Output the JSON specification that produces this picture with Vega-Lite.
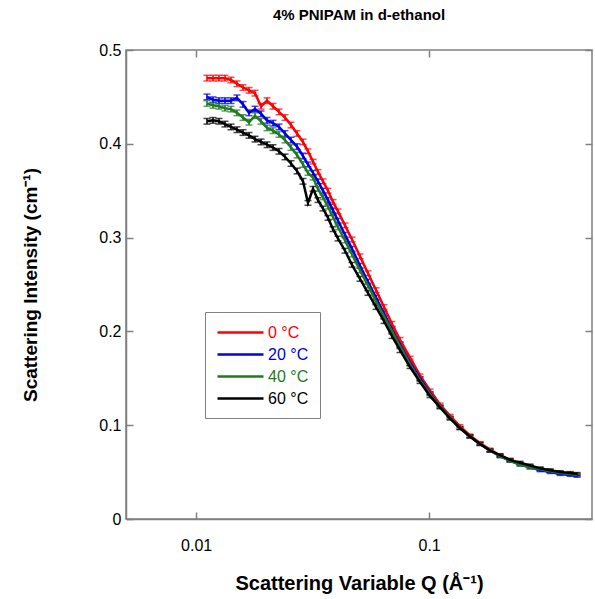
{
  "$schema": "https://vega.github.io/schema/vega-lite/v6.json",
  "autosize": "none",
  "width": 466,
  "height": 469,
  "padding": {"left": 126, "top": 50, "right": 3, "bottom": 80},
  "background": "white",
  "title": {"text": "4% PNIPAM in d-ethanol", "fontSize": 15, "fontWeight": "bold", "font": "Liberation Sans", "anchor": "middle", "offset": 19, "color": "#000"},
  "config": {
    "font": "Liberation Sans",
    "view": {"stroke": "#808080", "strokeWidth": 1.5},
    "axis": {"grid": false, "domainColor": "#808080", "domainWidth": 1.5, "tickColor": "#808080", "tickWidth": 1.5, "tickSize": -7, "labelFontSize": 16, "labelColor": "#000", "titleFontSize": 19, "titleFontWeight": "bold", "titleColor": "#000", "labelPadding": 12},
    "legend": {
      "orient": "none", "legendX": 79, "legendY": 262, "title": null,
      "symbolType": "M-1,0H4.75", "symbolSize": 256, "symbolStrokeWidth": 2.5,
      "labelFontSize": 16, "labelOffset": 33, "rowPadding": 4,
      "padding": 11, "strokeColor": "#808080", "fillColor": "white"
    }
  },
  "data": {"values": [
    {"T":"0 °C","Q":0.01113,"I":0.470,"e":0.003},{"T":"0 °C","Q":0.01181,"I":0.470,"e":0.003},{"T":"0 °C","Q":0.01253,"I":0.470,"e":0.003},{"T":"0 °C","Q":0.01330,"I":0.470,"e":0.003},{"T":"0 °C","Q":0.01411,"I":0.468,"e":0.003},{"T":"0 °C","Q":0.01497,"I":0.464,"e":0.003},{"T":"0 °C","Q":0.01589,"I":0.460,"e":0.003},{"T":"0 °C","Q":0.01686,"I":0.457,"e":0.003},{"T":"0 °C","Q":0.01789,"I":0.454,"e":0.003},{"T":"0 °C","Q":0.01899,"I":0.440,"e":0.003},{"T":"0 °C","Q":0.02015,"I":0.446,"e":0.003},{"T":"0 °C","Q":0.02138,"I":0.440,"e":0.003},{"T":"0 °C","Q":0.02268,"I":0.434,"e":0.003},{"T":"0 °C","Q":0.02407,"I":0.428,"e":0.003},{"T":"0 °C","Q":0.02554,"I":0.420,"e":0.003},{"T":"0 °C","Q":0.02710,"I":0.411,"e":0.003},{"T":"0 °C","Q":0.02875,"I":0.402,"e":0.003},{"T":"0 °C","Q":0.03020,"I":0.392,"e":0.0025},{"T":"0 °C","Q":0.03174,"I":0.381,"e":0.0025},{"T":"0 °C","Q":0.03334,"I":0.370,"e":0.0025},{"T":"0 °C","Q":0.03503,"I":0.360,"e":0.0025},{"T":"0 °C","Q":0.03681,"I":0.350,"e":0.0025},{"T":"0 °C","Q":0.03868,"I":0.338,"e":0.0025},{"T":"0 °C","Q":0.04064,"I":0.328,"e":0.0025},{"T":"0 °C","Q":0.04355,"I":0.313,"e":0.0025},{"T":"0 °C","Q":0.04667,"I":0.298,"e":0.0025},{"T":"0 °C","Q":0.05050,"I":0.280,"e":0.0025},{"T":"0 °C","Q":0.05464,"I":0.262,"e":0.0025},{"T":"0 °C","Q":0.05916,"I":0.244,"e":0.0025},{"T":"0 °C","Q":0.06403,"I":0.226,"e":0.0025},{"T":"0 °C","Q":0.06928,"I":0.208,"e":0.0025},{"T":"0 °C","Q":0.07499,"I":0.191,"e":0.0025},{"T":"0 °C","Q":0.08279,"I":0.172,"e":0.0015},{"T":"0 °C","Q":0.09141,"I":0.153,"e":0.0015},{"T":"0 °C","Q":0.1009,"I":0.137,"e":0.0015},{"T":"0 °C","Q":0.1114,"I":0.122,"e":0.0015},{"T":"0 °C","Q":0.1230,"I":0.110,"e":0.0015},{"T":"0 °C","Q":0.1356,"I":0.099,"e":0.0015},{"T":"0 °C","Q":0.1497,"I":0.089,"e":0.0015},{"T":"0 °C","Q":0.1653,"I":0.081,"e":0.0015},{"T":"0 °C","Q":0.1825,"I":0.074,"e":0.0015},{"T":"0 °C","Q":0.2015,"I":0.068,"e":0.0015},{"T":"0 °C","Q":0.2225,"I":0.063,"e":0.0015},{"T":"0 °C","Q":0.2456,"I":0.059,"e":0.0015},{"T":"0 °C","Q":0.2712,"I":0.056,"e":0.0015},{"T":"0 °C","Q":0.2994,"I":0.053,"e":0.0015},{"T":"0 °C","Q":0.3306,"I":0.051,"e":0.0015},{"T":"0 °C","Q":0.3650,"I":0.049,"e":0.0015},{"T":"0 °C","Q":0.4030,"I":0.048,"e":0.0015},{"T":"0 °C","Q":0.4315,"I":0.047,"e":0.0015},
    {"T":"20 °C","Q":0.01113,"I":0.450,"e":0.003},{"T":"20 °C","Q":0.01181,"I":0.447,"e":0.003},{"T":"20 °C","Q":0.01253,"I":0.446,"e":0.003},{"T":"20 °C","Q":0.01330,"I":0.446,"e":0.003},{"T":"20 °C","Q":0.01411,"I":0.446,"e":0.003},{"T":"20 °C","Q":0.01497,"I":0.449,"e":0.003},{"T":"20 °C","Q":0.01589,"I":0.442,"e":0.003},{"T":"20 °C","Q":0.01686,"I":0.433,"e":0.003},{"T":"20 °C","Q":0.01789,"I":0.437,"e":0.003},{"T":"20 °C","Q":0.01899,"I":0.432,"e":0.003},{"T":"20 °C","Q":0.02015,"I":0.425,"e":0.003},{"T":"20 °C","Q":0.02138,"I":0.422,"e":0.003},{"T":"20 °C","Q":0.02268,"I":0.418,"e":0.003},{"T":"20 °C","Q":0.02407,"I":0.411,"e":0.003},{"T":"20 °C","Q":0.02554,"I":0.404,"e":0.003},{"T":"20 °C","Q":0.02710,"I":0.397,"e":0.003},{"T":"20 °C","Q":0.02875,"I":0.387,"e":0.003},{"T":"20 °C","Q":0.03020,"I":0.378,"e":0.0025},{"T":"20 °C","Q":0.03174,"I":0.369,"e":0.0025},{"T":"20 °C","Q":0.03334,"I":0.360,"e":0.0025},{"T":"20 °C","Q":0.03503,"I":0.350,"e":0.0025},{"T":"20 °C","Q":0.03681,"I":0.340,"e":0.0025},{"T":"20 °C","Q":0.03868,"I":0.329,"e":0.0025},{"T":"20 °C","Q":0.04064,"I":0.318,"e":0.0025},{"T":"20 °C","Q":0.04355,"I":0.303,"e":0.0025},{"T":"20 °C","Q":0.04667,"I":0.288,"e":0.0025},{"T":"20 °C","Q":0.05050,"I":0.270,"e":0.0025},{"T":"20 °C","Q":0.05464,"I":0.253,"e":0.0025},{"T":"20 °C","Q":0.05916,"I":0.236,"e":0.0025},{"T":"20 °C","Q":0.06403,"I":0.219,"e":0.0025},{"T":"20 °C","Q":0.06928,"I":0.202,"e":0.0025},{"T":"20 °C","Q":0.07499,"I":0.186,"e":0.0025},{"T":"20 °C","Q":0.08279,"I":0.167,"e":0.0015},{"T":"20 °C","Q":0.09141,"I":0.150,"e":0.0015},{"T":"20 °C","Q":0.1009,"I":0.134,"e":0.0015},{"T":"20 °C","Q":0.1114,"I":0.120,"e":0.0015},{"T":"20 °C","Q":0.1230,"I":0.108,"e":0.0015},{"T":"20 °C","Q":0.1356,"I":0.097,"e":0.0015},{"T":"20 °C","Q":0.1497,"I":0.088,"e":0.0015},{"T":"20 °C","Q":0.1653,"I":0.080,"e":0.0015},{"T":"20 °C","Q":0.1825,"I":0.073,"e":0.0015},{"T":"20 °C","Q":0.2015,"I":0.067,"e":0.0015},{"T":"20 °C","Q":0.2225,"I":0.062,"e":0.0015},{"T":"20 °C","Q":0.2456,"I":0.058,"e":0.0015},{"T":"20 °C","Q":0.2712,"I":0.055,"e":0.0015},{"T":"20 °C","Q":0.2994,"I":0.052,"e":0.0015},{"T":"20 °C","Q":0.3306,"I":0.050,"e":0.0015},{"T":"20 °C","Q":0.3650,"I":0.048,"e":0.0015},{"T":"20 °C","Q":0.4030,"I":0.047,"e":0.0015},{"T":"20 °C","Q":0.4315,"I":0.046,"e":0.0015},
    {"T":"40 °C","Q":0.01113,"I":0.443,"e":0.003},{"T":"40 °C","Q":0.01181,"I":0.441,"e":0.003},{"T":"40 °C","Q":0.01253,"I":0.440,"e":0.003},{"T":"40 °C","Q":0.01330,"I":0.438,"e":0.003},{"T":"40 °C","Q":0.01411,"I":0.437,"e":0.003},{"T":"40 °C","Q":0.01497,"I":0.433,"e":0.003},{"T":"40 °C","Q":0.01589,"I":0.428,"e":0.003},{"T":"40 °C","Q":0.01686,"I":0.423,"e":0.003},{"T":"40 °C","Q":0.01789,"I":0.430,"e":0.003},{"T":"40 °C","Q":0.01899,"I":0.424,"e":0.003},{"T":"40 °C","Q":0.02015,"I":0.417,"e":0.003},{"T":"40 °C","Q":0.02138,"I":0.414,"e":0.003},{"T":"40 °C","Q":0.02268,"I":0.410,"e":0.003},{"T":"40 °C","Q":0.02407,"I":0.404,"e":0.003},{"T":"40 °C","Q":0.02554,"I":0.396,"e":0.003},{"T":"40 °C","Q":0.02710,"I":0.388,"e":0.003},{"T":"40 °C","Q":0.02875,"I":0.378,"e":0.003},{"T":"40 °C","Q":0.03020,"I":0.369,"e":0.0025},{"T":"40 °C","Q":0.03174,"I":0.364,"e":0.0025},{"T":"40 °C","Q":0.03334,"I":0.352,"e":0.0025},{"T":"40 °C","Q":0.03503,"I":0.343,"e":0.0025},{"T":"40 °C","Q":0.03681,"I":0.333,"e":0.0025},{"T":"40 °C","Q":0.03868,"I":0.322,"e":0.0025},{"T":"40 °C","Q":0.04064,"I":0.311,"e":0.0025},{"T":"40 °C","Q":0.04355,"I":0.297,"e":0.0025},{"T":"40 °C","Q":0.04667,"I":0.282,"e":0.0025},{"T":"40 °C","Q":0.05050,"I":0.265,"e":0.0025},{"T":"40 °C","Q":0.05464,"I":0.249,"e":0.0025},{"T":"40 °C","Q":0.05916,"I":0.232,"e":0.0025},{"T":"40 °C","Q":0.06403,"I":0.216,"e":0.0025},{"T":"40 °C","Q":0.06928,"I":0.200,"e":0.0025},{"T":"40 °C","Q":0.07499,"I":0.184,"e":0.0025},{"T":"40 °C","Q":0.08279,"I":0.165,"e":0.0015},{"T":"40 °C","Q":0.09141,"I":0.148,"e":0.0015},{"T":"40 °C","Q":0.1009,"I":0.133,"e":0.0015},{"T":"40 °C","Q":0.1114,"I":0.120,"e":0.0015},{"T":"40 °C","Q":0.1230,"I":0.108,"e":0.0015},{"T":"40 °C","Q":0.1356,"I":0.097,"e":0.0015},{"T":"40 °C","Q":0.1497,"I":0.088,"e":0.0015},{"T":"40 °C","Q":0.1653,"I":0.080,"e":0.0015},{"T":"40 °C","Q":0.1825,"I":0.073,"e":0.0015},{"T":"40 °C","Q":0.2015,"I":0.067,"e":0.0015},{"T":"40 °C","Q":0.2225,"I":0.062,"e":0.0015},{"T":"40 °C","Q":0.2456,"I":0.058,"e":0.0015},{"T":"40 °C","Q":0.2712,"I":0.055,"e":0.0015},{"T":"40 °C","Q":0.2994,"I":0.053,"e":0.0015},{"T":"40 °C","Q":0.3306,"I":0.051,"e":0.0015},{"T":"40 °C","Q":0.3650,"I":0.049,"e":0.0015},{"T":"40 °C","Q":0.4030,"I":0.048,"e":0.0015},{"T":"40 °C","Q":0.4315,"I":0.047,"e":0.0015},
    {"T":"60 °C","Q":0.01113,"I":0.424,"e":0.003},{"T":"60 °C","Q":0.01181,"I":0.425,"e":0.003},{"T":"60 °C","Q":0.01253,"I":0.424,"e":0.003},{"T":"60 °C","Q":0.01330,"I":0.421,"e":0.003},{"T":"60 °C","Q":0.01411,"I":0.418,"e":0.003},{"T":"60 °C","Q":0.01497,"I":0.415,"e":0.003},{"T":"60 °C","Q":0.01589,"I":0.412,"e":0.003},{"T":"60 °C","Q":0.01686,"I":0.409,"e":0.003},{"T":"60 °C","Q":0.01789,"I":0.405,"e":0.003},{"T":"60 °C","Q":0.01899,"I":0.402,"e":0.003},{"T":"60 °C","Q":0.02015,"I":0.399,"e":0.003},{"T":"60 °C","Q":0.02138,"I":0.396,"e":0.003},{"T":"60 °C","Q":0.02268,"I":0.392,"e":0.003},{"T":"60 °C","Q":0.02407,"I":0.386,"e":0.003},{"T":"60 °C","Q":0.02554,"I":0.379,"e":0.003},{"T":"60 °C","Q":0.02710,"I":0.371,"e":0.003},{"T":"60 °C","Q":0.02875,"I":0.360,"e":0.003},{"T":"60 °C","Q":0.03020,"I":0.337,"e":0.0025},{"T":"60 °C","Q":0.03174,"I":0.352,"e":0.0025},{"T":"60 °C","Q":0.03334,"I":0.340,"e":0.0025},{"T":"60 °C","Q":0.03503,"I":0.331,"e":0.0025},{"T":"60 °C","Q":0.03681,"I":0.321,"e":0.0025},{"T":"60 °C","Q":0.03868,"I":0.309,"e":0.0025},{"T":"60 °C","Q":0.04064,"I":0.299,"e":0.0025},{"T":"60 °C","Q":0.04355,"I":0.286,"e":0.0025},{"T":"60 °C","Q":0.04667,"I":0.271,"e":0.0025},{"T":"60 °C","Q":0.05050,"I":0.256,"e":0.0025},{"T":"60 °C","Q":0.05464,"I":0.241,"e":0.0025},{"T":"60 °C","Q":0.05916,"I":0.226,"e":0.0025},{"T":"60 °C","Q":0.06403,"I":0.211,"e":0.0025},{"T":"60 °C","Q":0.06928,"I":0.195,"e":0.0025},{"T":"60 °C","Q":0.07499,"I":0.180,"e":0.0025},{"T":"60 °C","Q":0.08279,"I":0.162,"e":0.0015},{"T":"60 °C","Q":0.09141,"I":0.146,"e":0.0015},{"T":"60 °C","Q":0.1009,"I":0.131,"e":0.0015},{"T":"60 °C","Q":0.1114,"I":0.119,"e":0.0015},{"T":"60 °C","Q":0.1230,"I":0.107,"e":0.0015},{"T":"60 °C","Q":0.1356,"I":0.097,"e":0.0015},{"T":"60 °C","Q":0.1497,"I":0.088,"e":0.0015},{"T":"60 °C","Q":0.1653,"I":0.080,"e":0.0015},{"T":"60 °C","Q":0.1825,"I":0.073,"e":0.0015},{"T":"60 °C","Q":0.2015,"I":0.068,"e":0.0015},{"T":"60 °C","Q":0.2225,"I":0.063,"e":0.0015},{"T":"60 °C","Q":0.2456,"I":0.060,"e":0.0015},{"T":"60 °C","Q":0.2712,"I":0.057,"e":0.0015},{"T":"60 °C","Q":0.2994,"I":0.054,"e":0.0015},{"T":"60 °C","Q":0.3306,"I":0.052,"e":0.0015},{"T":"60 °C","Q":0.3650,"I":0.050,"e":0.0015},{"T":"60 °C","Q":0.4030,"I":0.049,"e":0.0015},{"T":"60 °C","Q":0.4315,"I":0.048,"e":0.0015}
  ]},
  "layer": [
    {
      "mark": {"type": "point", "opacity": 0},
      "encoding": {
        "x": {"field": "Q", "type": "quantitative", "scale": {"type": "log", "domain": [0.005, 0.5], "nice": false}, "axis": {"orient": "top", "values": [0.01, 0.1], "labels": false, "title": null, "domain": false}},
        "y": {"field": "I", "type": "quantitative", "scale": {"domain": [0, 0.5], "nice": false, "zero": true}, "axis": {"orient": "right", "values": [0, 0.1, 0.2, 0.3, 0.4, 0.5], "labels": false, "title": null, "domain": false}}
      }
    },
    {
      "mark": {"type": "errorbar", "ticks": {"size": 7, "thickness": 1.5}, "thickness": 1.5},
      "encoding": {
        "x": {"field": "Q", "type": "quantitative", "axis": null},
        "y": {"field": "I", "type": "quantitative", "axis": null},
        "yError": {"field": "e"},
        "color": {"field": "T", "type": "nominal", "legend": {"encode": {"labels": {"update": {"fill": {"scale": "color", "field": "value"}}}}}}
      }
    },
    {
      "mark": {"type": "line", "strokeWidth": 2.5},
      "encoding": {
        "x": {"field": "Q", "type": "quantitative", "axis": {"orient": "bottom", "values": [0.01, 0.1], "format": "~g", "title": "Scattering Variable Q (Å⁻¹)", "titlePadding": 20, "labelPadding": 25, "titleFontSize": 20}},
        "y": {"field": "I", "type": "quantitative", "axis": {"orient": "left", "values": [0, 0.1, 0.2, 0.3, 0.4, 0.5], "format": "~g", "title": "Scattering Intensity (cm⁻¹)", "titlePadding": 58}},
        "color": {
          "field": "T", "type": "nominal",
          "scale": {"domain": ["0 °C", "20 °C", "40 °C", "60 °C"], "range": ["#ff0000", "#0000e6", "#1f7a1f", "#000000"]},
          "legend": {"encode": {"labels": {"update": {"fill": {"scale": "color", "field": "value"}}}}}
        }
      }
    }
  ],
  "resolve": {"axis": {"x": "independent", "y": "independent"}}
}
